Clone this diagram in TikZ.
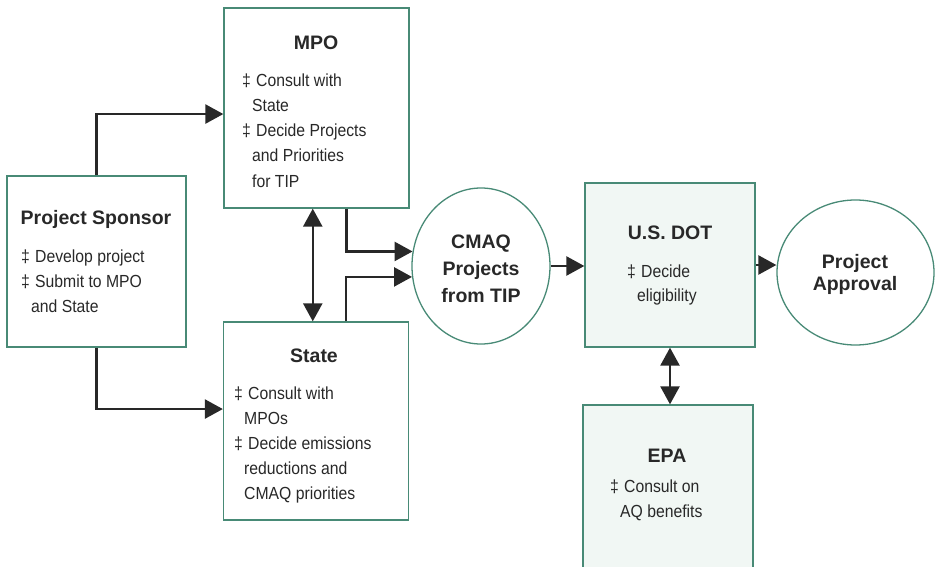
\documentclass[tikz,border=0pt]{standalone}
\usepackage{fontspec}
\setmainfont{Liberation Sans}
\newfontfamily\narrowfont[FakeStretch=0.9]{Liberation Sans}
\usetikzlibrary{arrows.meta,calc,shapes.geometric}
\definecolor{boxline}{RGB}{72,138,118}
\definecolor{boxtint}{RGB}{241,247,244}
\definecolor{ink}{RGB}{40,40,40}
\newcommand{\itm}{\makebox[14pt][l]{‡}}
\newcommand{\cont}{\hspace*{10pt}}

\begin{document}
\begin{tikzpicture}[x=1pt,y=-1pt,
    box/.style={draw=boxline,line width=1.3pt,inner sep=0pt},
    ttl/.style={font=\fontsize{19.5}{22}\selectfont\bfseries,text=ink,anchor=base,inner sep=0pt},
    txt/.style={font=\narrowfont\fontsize{17.5}{20}\selectfont,text=ink,anchor=base west,inner sep=0pt},
    arr/.style={draw=ink,line width=2.5pt,-{Triangle[length=18pt,width=19pt]}},
    darr/.style={draw=ink,line width=2.5pt,{Triangle[length=18pt,width=19pt]}-{Triangle[length=18pt,width=19pt]}}]
    \useasboundingbox (0,0) rectangle (935,567);
    \clip (0,0) rectangle (935,567);
    % boxes and circles
    \node[box,minimum width=179pt,minimum height=171pt] (sponsor) at (96.5,261.5) {};
    \node[box,minimum width=185pt,minimum height=200pt] (mpo) at (316.5,108) {};
    \node[box,minimum width=185pt,minimum height=198pt] (state) at (316,421) {};
    \node[box,ellipse,minimum width=138pt,minimum height=156pt] (cmaq) at (481,266) {};
    \node[box,fill=boxtint,minimum width=170pt,minimum height=164pt] (usdot) at (670,265) {};
    \node[box,ellipse,minimum width=157pt,minimum height=145pt] (approval) at (855.5,272.5) {};
    \node[box,fill=boxtint,minimum width=170pt,minimum height=180pt] (epa) at (668,495) {};
    % points where the elbow arrows meet the boxes
    \coordinate (mpoin) at ($(mpo.north west)!0.53!(mpo.south west)$);
    \coordinate (statein) at ($(state.north west)!0.44!(state.south west)$);
    \coordinate (mpolink) at ($(mpo.south west)!0.48!(mpo.south east)$);
    \coordinate (mpoout) at ($(mpo.south west)!0.66!(mpo.south east)$);
    \coordinate (stateout) at ($(state.north west)!0.66!(state.north east)$);
    % arrows
    \draw[arr] (sponsor.north) |- (mpoin);
    \draw[arr] (sponsor.south) |- (statein);
    \draw[darr] (mpolink) -- (mpolink |- state.north);
    \draw[arr] (mpoout) |- (cmaq.168);
    \draw[arr] (stateout) |- (cmaq.189);
    \draw[arr] (cmaq.east) -- (cmaq.east -| usdot.west);
    \draw[arr] (usdot.east) -- (usdot.east -| approval.west);
    \draw[darr] (usdot.south) -- (usdot.south |- epa.north);
    % texts
    \node[ttl] (sponsort) at (96,224) {Project Sponsor};
    \foreach \t [count=\i] in {\itm Develop project,\itm Submit to MPO,\cont and State}
        \node[txt] (sponsor\i) at (21,{237+25*\i}) {\t};
    \node[ttl] (mpot) at (316,50) {MPO};
    \foreach \t [count=\i] in {\itm Consult with,\cont State,\itm Decide Projects,\cont and Priorities,\cont for TIP}
        \node[txt] (mpo\i) at (242,{62+25*\i}) {\t};
    \node[ttl] (statet) at (314,362) {State};
    \foreach \t [count=\i] in {\itm Consult with,\cont MPOs,\itm Decide emissions,\cont reductions and,\cont CMAQ priorities}
        \node[txt] (state\i) at (234,{374+25*\i}) {\t};
    \foreach \t [count=\i] in {CMAQ,Projects,from TIP}
        \node[ttl] (cmaq\i) at (481,{221+27*\i}) {\t};
    \node[ttl] (usdott) at (670,239) {U.S. DOT};
    \foreach \t [count=\i] in {\itm Decide,\cont eligibility}
        \node[txt] (usdot\i) at (627,{253+24*\i}) {\t};
    \foreach \t [count=\i] in {Project,Approval}
        \node[ttl] (approval\i) at (855,{246+22*\i}) {\t};
    \node[ttl] (epat) at (667,462) {EPA};
    \foreach \t [count=\i] in {\itm Consult on,\cont AQ benefits}
        \node[txt] (epa\i) at (610,{467+25*\i}) {\t};
\end{tikzpicture}
\end{document}
